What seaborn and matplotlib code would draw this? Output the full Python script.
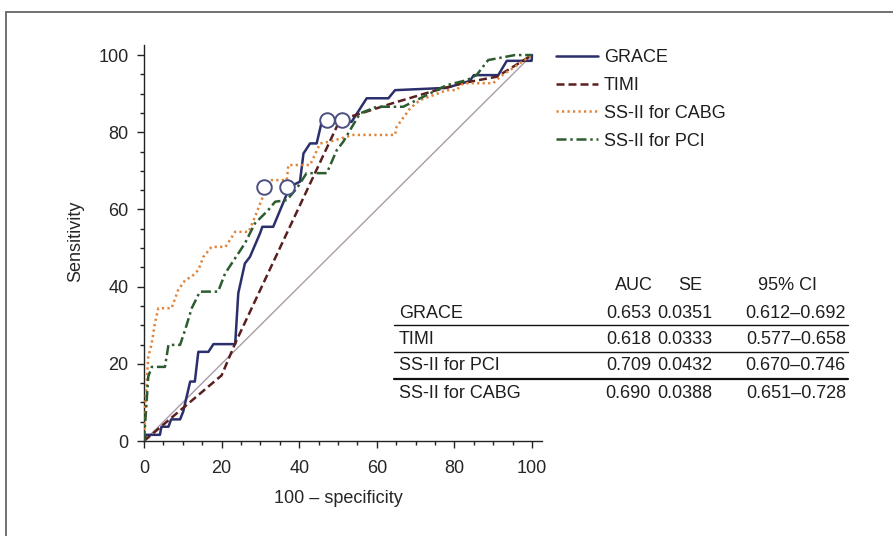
import matplotlib.pyplot as plt
from matplotlib.lines import Line2D
from matplotlib.patches import Rectangle
import pandas as pd
import seaborn as sns

# ROC curves (x = 100 - specificity, y = sensitivity)
grace_x = [0, 0.5, 4.1, 4.5, 6.3, 7.0, 9.3, 10.1, 11.9, 13.1, 14.0, 16.6, 17.9, 23.5,
           24.3, 26.0, 27.3, 29.9, 30.5, 33.3, 37.6, 40.2, 41.1, 42.8, 44.5, 45.8,
           53.5, 57.4, 63.0, 64.7, 78.0, 84.0, 85.0, 91.3, 93.5, 99.9, 100]
grace_y = [0, 1.6, 1.6, 3.7, 3.7, 5.6, 5.6, 7.6, 15.4, 15.4, 23.1, 23.1, 25.1, 25.1,
           38.3, 46.0, 47.7, 53.8, 55.5, 55.5, 65.9, 67.2, 74.5, 77.1, 77.1, 82.7,
           82.7, 88.8, 88.8, 90.9, 91.5, 93.3, 94.8, 94.8, 98.5, 98.5, 100]

timi_x = [0, 20.0, 23.5, 50.5, 55.0, 64.0, 74.0, 82.0, 91.0, 100]
timi_y = [0, 17.0, 25.3, 83.2, 84.6, 87.5, 90.5, 92.7, 94.4, 100]

cabg_x = [0, 0.3, 1.1, 2.0, 2.8, 3.7, 7.1, 8.8, 10.6, 12.3, 14.0, 15.3, 17.4, 21.0,
          23.5, 27.0, 28.6, 30.8, 32.5, 36.8, 37.2, 42.8, 45.4, 48.0, 53.9, 64.7,
          65.1, 68.6, 71.1, 78.0, 80.5, 82.3, 90.0, 91.8, 100]
cabg_y = [0, 8.9, 21.8, 25.3, 30.5, 34.4, 34.4, 39.1, 41.7, 42.6, 44.3, 47.7, 50.3, 50.3,
          54.2, 54.2, 58.1, 63.7, 67.6, 67.6, 71.5, 71.5, 77.1, 77.6, 79.3, 79.3,
          81.4, 86.2, 88.3, 90.9, 90.9, 92.7, 92.7, 94.4, 100]

pci_x = [0, 1.1, 2.0, 5.4, 6.3, 9.3, 10.6, 12.3, 14.4, 19.1, 20.9, 22.6, 26.0, 28.6,
         32.0, 33.8, 36.8, 39.4, 41.9, 47.1, 49.7, 51.4, 53.9, 55.7, 60.0, 66.8,
         72.0, 78.0, 83.2, 85.7, 88.7, 95.6, 100]
pci_y = [0, 16.7, 19.2, 19.2, 24.9, 24.9, 28.8, 34.4, 38.7, 38.7, 43.4, 46.0, 51.2, 56.4,
         59.8, 62.0, 62.4, 65.5, 69.4, 69.4, 75.4, 77.6, 81.9, 84.9, 86.6, 86.6,
         89.2, 92.2, 93.5, 94.8, 98.7, 100, 100]

cut_x = [31.0, 36.9, 47.1, 51.0]
cut_y = [65.9, 65.9, 83.3, 83.3]

table_header = ["AUC", "SE", "95% CI"]
table_rows = ["GRACE", "TIMI", "SS-II for PCI", "SS-II for CABG"]
table_auc = ["0.653", "0.618", "0.709", "0.690"]
table_se = ["0.0351", "0.0333", "0.0432", "0.0388"]
table_ci = ["0.612\u20130.692", "0.577\u20130.658", "0.670\u20130.746", "0.651\u20130.728"]

sns.set_theme(style="ticks")
plt.rcParams["font.family"] = ["Liberation Sans", "DejaVu Sans"]
plt.rcParams["text.color"] = "#1e1e1e"

W, H = 893, 536
FS = 13
fig = plt.figure(figsize=(W / 100, H / 100), dpi=100)


def fx(px):
    return px / W


def fy(py):
    return 1 - py / H


# axes: x=0 at px 144, y=0 at px 441, ~3.88 px per unit
ax = fig.add_axes([fx(144), fy(441), 397.7 / W, 395.6 / H])

ax.plot([0, 100], [0, 100], color="#ab9ca6", lw=1.0, zorder=1)

curves = [
    ("GRACE", grace_x, grace_y, "#2b2f6b", None),
    ("TIMI", timi_x, timi_y, "#5a1f1f", (3.2, 1.6)),
    ("SS-II for CABG", cabg_x, cabg_y, "#e0843a", (0.9, 1.3)),
    ("SS-II for PCI", pci_x, pci_y, "#2c5c2f", (4.0, 1.5, 1.0, 1.5)),
]
for name, xs, ys, col, dash in curves:
    df = pd.DataFrame({"x": xs, "y": ys})
    sns.lineplot(data=df, x="x", y="y", sort=False, estimator=None, color=col,
                 lw=1.8, label=name, ax=ax, zorder=3)
    if dash is not None:
        ax.lines[-1].set_dashes(dash)

sns.scatterplot(x=cut_x, y=cut_y, marker="o", s=110, facecolor="white",
                edgecolor="#4b5080", linewidth=1.4, ax=ax, zorder=5)

ax.set_xlim(0, 102.5)
ax.set_ylim(0, 102.5)
ax.set_xticks(range(0, 101, 20))
ax.set_yticks(range(0, 101, 20))
ax.set_xticks(range(0, 101, 5), minor=True)
ax.set_yticks(range(0, 101, 5), minor=True)
ax.tick_params(which="major", length=5, width=1, labelsize=FS, color="#222")
ax.tick_params(axis="x", which="major", pad=8.5)
ax.tick_params(axis="y", which="major", pad=6)
ax.tick_params(which="minor", length=3, width=1, color="#222")
for s in ("top", "right"):
    ax.spines[s].set_visible(False)
for s in ("left", "bottom"):
    ax.spines[s].set_color("#222")
    ax.spines[s].set_linewidth(1.0)

ax.set_xlabel("100 \u2013 specificity", fontsize=FS)
ax.set_ylabel("Sensitivity", fontsize=FS)
ax.xaxis.set_label_coords(0.49, -0.125)
ax.yaxis.set_label_coords(-0.15, 0.505)

handles, labels = ax.get_legend_handles_labels()
ax.get_legend().remove()
fig.legend(handles[:4], labels[:4], loc="upper left", bbox_to_anchor=(fx(556), fy(49)),
           frameon=False, fontsize=FS, handlelength=2.3, handletextpad=0.35,
           labelspacing=0.6, borderpad=0, borderaxespad=0)

# statistics table
hdr_y = 286
row_y = [313, 340, 366, 393]
line_y = [325, 352, 379]
fig.text(fx(634), fy(hdr_y), table_header[0], ha="center", va="center", fontsize=FS)
fig.text(fx(690), fy(hdr_y), table_header[1], ha="center", va="center", fontsize=FS)
fig.text(fx(788), fy(hdr_y), table_header[2], ha="center", va="center", fontsize=FS)
for i, y in enumerate(row_y):
    fig.text(fx(399), fy(y), table_rows[i], ha="left", va="center", fontsize=FS)
    fig.text(fx(651), fy(y), table_auc[i], ha="right", va="center", fontsize=FS)
    fig.text(fx(712), fy(y), table_se[i], ha="right", va="center", fontsize=FS)
    fig.text(fx(846), fy(y), table_ci[i], ha="right", va="center", fontsize=FS)
for i, y in enumerate(line_y):
    fig.add_artist(Line2D([fx(394), fx(848)], [fy(y), fy(y)], color="#111",
                          lw=1.6 if i == 2 else 1.0))

# outer frame (top and left edges visible)
fig.add_artist(Rectangle((fx(6), -0.05), 1.2, fy(12) + 0.05, fill=False,
                         edgecolor="#666666", lw=1.3))

fig.savefig("out.png", dpi=100, facecolor="white")
